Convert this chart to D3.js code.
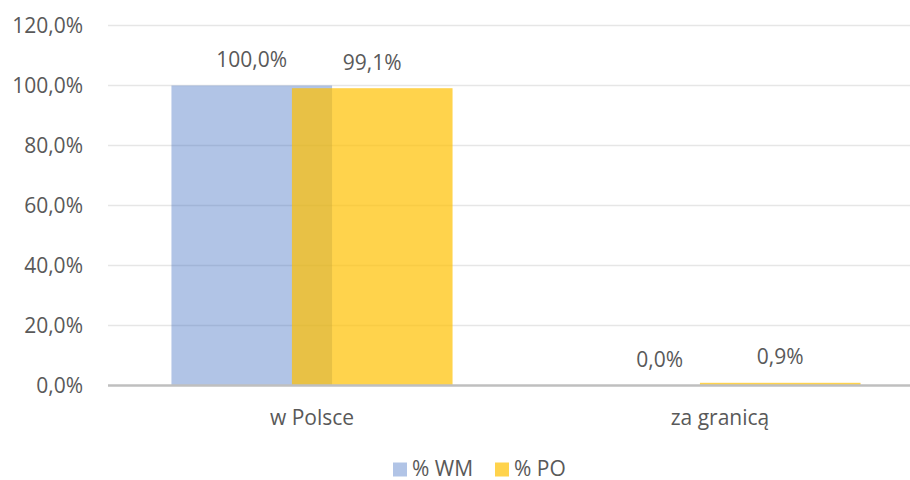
<!DOCTYPE html>
<html><head><meta charset="utf-8">
<script src="https://cdn.jsdelivr.net/npm/d3@7"></script>
<style>body{margin:0;background:#fff}svg{display:block}text{font-family:"Open Sans",sans-serif;fill:#595959}</style>
</head><body>
<svg id="c" width="910" height="480"></svg>
<script>
const categories = ["w Polsce", "za granicą"];
const seriesNames = ["% WM", "% PO"];
const wmValues = [100.0, 0.0];
const poValues = [99.1, 0.9];
const yTicks = [0, 20, 40, 60, 80, 100, 120];

const colors = {"% WM": "#4472C4", "% PO": "#FFC000"};
const opac = {"% WM": 0.42, "% PO": 0.7};
const svg = d3.select("#c");
const W = 910, H = 480;
const FS = 21;
const mLeft = 108, mRight = 924, mTop = 25.5, mBottom = 385.5;
const fmt = v => v.toFixed(1).replace(".", ",") + "%";

const y = d3.scaleLinear().domain([0, 120]).range([mBottom, mTop]);
const x = d3.scaleBand().domain(categories).range([mLeft, mRight]).paddingInner(0.311).paddingOuter(0.1555);
const barW = x.bandwidth() / 1.75;
const sub = d3.scaleOrdinal().domain(seriesNames).range([0, barW * 0.75]);

// gridlines
svg.append("g").selectAll("line").data(yTicks.filter(t => t > 0)).join("line")
  .attr("x1", mLeft).attr("x2", W).attr("y1", d => y(d)).attr("y2", d => y(d))
  .attr("stroke", "#E6E6E6").attr("stroke-width", 1.4);

// y axis labels
const yAxis = d3.axisLeft(y).tickValues(yTicks).tickFormat(d => fmt(d)).tickSize(0).tickPadding(0);
const ga = svg.append("g").attr("transform", `translate(${mLeft - 25},0)`).call(yAxis);
ga.select(".domain").remove();
ga.selectAll("text").attr("font-size", FS).style("font-family", '"Open Sans",sans-serif').attr("fill", "#595959").attr("dy", "0.35em");

const data = [];
categories.forEach((c, i) => {
  data.push({cat: c, s: "% WM", v: wmValues[i]});
  data.push({cat: c, s: "% PO", v: poValues[i]});
});

svg.append("g").selectAll("rect").data(data).join("rect")
  .attr("x", d => x(d.cat) + sub(d.s))
  .attr("width", barW)
  .attr("y", d => y(d.v))
  .attr("height", d => y(0) - y(d.v))
  .attr("fill", d => colors[d.s])
  .attr("fill-opacity", d => opac[d.s]);

// x axis line
svg.append("line").attr("x1", mLeft).attr("x2", W).attr("y1", y(0)).attr("y2", y(0))
  .attr("stroke", "#BFBFBF").attr("stroke-width", 2.5);

// data labels
svg.append("g").selectAll("text").data(data).join("text")
  .attr("x", d => x(d.cat) + sub(d.s) + barW / 2)
  .attr("y", d => y(d.v) - 18.5)
  .attr("text-anchor", "middle").attr("font-size", FS)
  .text(d => fmt(d.v));

// category labels
const xAxis = d3.axisBottom(x).tickSize(0).tickPadding(0);
const gx = svg.append("g").attr("transform", `translate(0,${mBottom})`).call(xAxis);
gx.select(".domain").remove();
gx.selectAll("text").attr("font-size", FS).style("font-family", '"Open Sans",sans-serif').attr("fill", "#595959")
  .attr("dy", null).attr("y", 39);

// legend
const lg = svg.append("g");
const lx = [393, 495];
seriesNames.forEach((s, i) => {
  lg.append("rect").attr("x", lx[i]).attr("y", 462.5).attr("width", 14).attr("height", 14)
    .attr("fill", colors[s]).attr("fill-opacity", opac[s]);
  lg.append("text").attr("x", lx[i] + 19).attr("y", 475.5).attr("font-size", FS).text(s);
});
</script>
</body></html>
